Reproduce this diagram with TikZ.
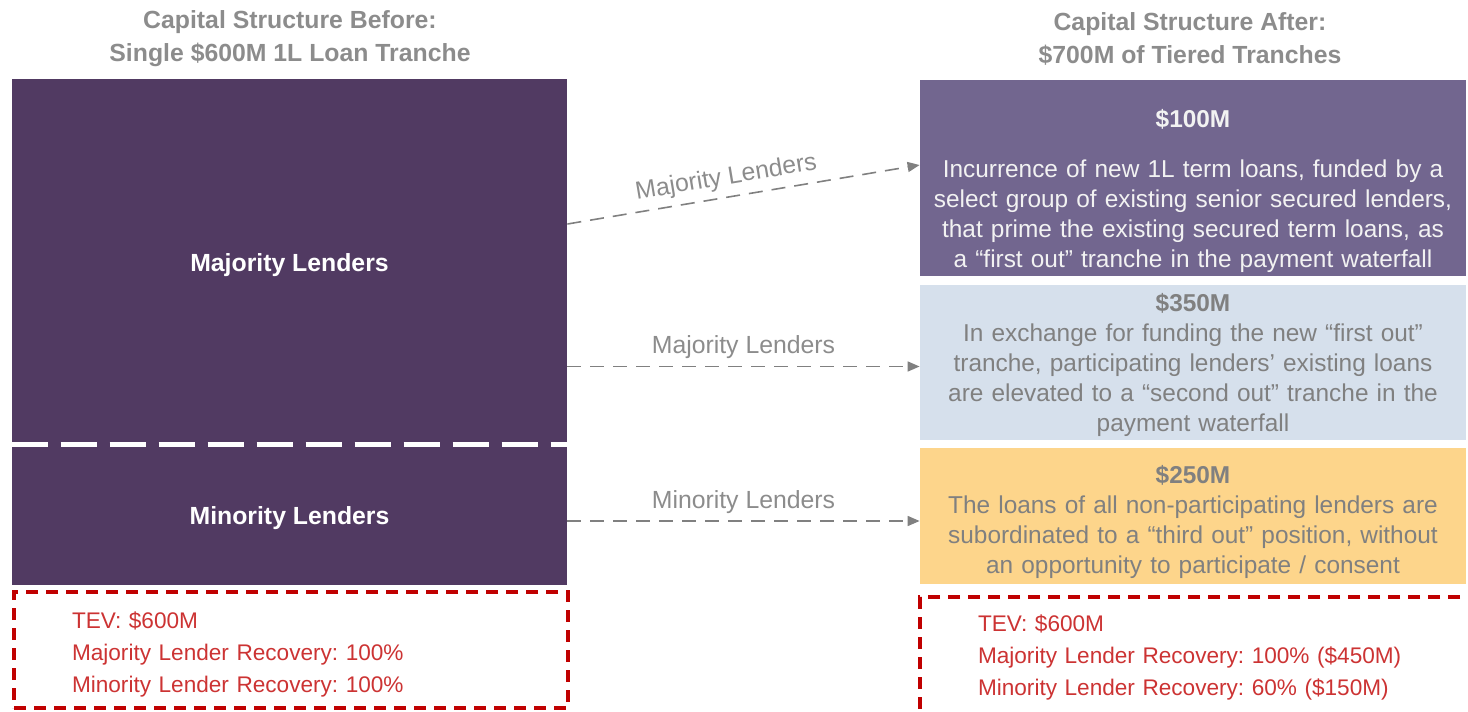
\documentclass[tikz,border=0pt]{standalone}
\usepackage{fontspec}
\setmainfont{Liberation Sans}
\usetikzlibrary{arrows.meta}
\frenchspacing

\definecolor{plum}{HTML}{513A62}
\definecolor{lavender}{HTML}{72668F}
\definecolor{mist}{HTML}{D6E0EC}
\definecolor{peach}{HTML}{FDD58B}
\definecolor{ash}{HTML}{8C8C8C}
\definecolor{crimson}{HTML}{C00000}
\definecolor{rust}{HTML}{CC3333}

\begin{document}
\begin{tikzpicture}[x=0.5pt, y=-0.5pt,
        every node/.style={font=\fontsize{12.4}{15}\selectfont},
        heading/.style={text=ash, align=center, font=\fontsize{12.4}{16.5}\selectfont\bfseries},
        lenders/.style={fill=plum, text=white, font=\fontsize{12.4}{15}\selectfont\bfseries, minimum width=277.5pt, inner sep=0pt, text height=10.4pt, text depth=0pt},
        tranche/.style={text width=265pt, inner xsep=4pt, inner ysep=0pt, align=center, font=\fontsize{12.2}{15}\selectfont},
        recovery/.style={draw=crimson, line width=2.3pt, dash pattern=on 6pt off 4pt, text=rust, align=left, inner xsep=29pt, font=\fontsize{11.3}{16}\selectfont},
        handoff/.style={draw=gray, line width=0.8pt, dash pattern=on 7pt off 4.5pt, -{Triangle[length=6pt,width=5pt]}, text=ash}]
        \useasboundingbox (0,0) rectangle (1468,712);

        \node[heading] (before) at (290,39) {Capital Structure Before:\\Single \$600M 1L Loan Tranche};
        \node[heading] (after) at (1190,39) {Capital Structure After:\\\$700M of Tiered Tranches};

        \node[lenders, minimum height=182.5pt] (majority) at (289.5,261.5) {Majority Lenders};
        \node[lenders, minimum height=70.5pt] (minority) at (289.5,514.5) {Minority Lenders};
        \draw[white, line width=2.5pt, dash pattern=on 18pt off 6.5pt] (majority.south west) -- (majority.south east);

        % struts on the first lines push the text down inside the boxes
        \node[tranche, fill=lavender, text=white!95!black, minimum height=98pt] (t1) at (1193,178) {\rule{0pt}{21.8pt}\textbf{\$100M}\\[10pt] Incurrence of new 1L term loans, funded by a\\ select group of existing senior secured lenders,\\ that prime the existing secured term loans, as\\ a “first out” tranche in the payment waterfall};
        \node[tranche, fill=mist, text=gray, minimum height=77.5pt] (t2) at (1193,362.5) {\rule{0pt}{11.8pt}\textbf{\$350M}\\ In exchange for funding the new “first out”\\ tranche, participating lenders’ existing loans\\ are elevated to a “second out” tranche in the\\ payment waterfall};
        \node[tranche, fill=peach, text=gray, minimum height=68pt] (t3) at (1193,516) {\rule{0pt}{14.8pt}\textbf{\$250M}\\ The loans of all non-participating lenders are\\ subordinated to a “third out” position, without\\ an opportunity to participate / consent};

        \draw[handoff] ([yshift=18.75pt]majority.east) to node[sloped, above, pos=0.46]{Majority Lenders} ([yshift=6.5pt]t1.west);
        \draw[handoff] ([yshift=-2pt]t2.west -| majority.east) to node[above]{Majority Lenders} ([yshift=-2pt]t2.west);
        \draw[handoff] ([yshift=-2.5pt]t3.west -| minority.east) to node[above]{Minority Lenders} ([yshift=-2.5pt]t3.west);

        \node[recovery, minimum width=277pt, minimum height=58pt, text width=219pt] (rec-before) at (291,650) {\rule{0pt}{13pt}TEV: \$600M\\ Majority Lender Recovery: 100\%\\ Minority Lender Recovery: 100\%};
        \node[recovery, minimum width=290pt, minimum height=60pt, text width=232pt] (rec-after) at (1210,657) {TEV: \$600M\\ Majority Lender Recovery: 100\% (\$450M)\\ Minority Lender Recovery: 60\% (\$150M)};
      \end{tikzpicture}
\end{document}
